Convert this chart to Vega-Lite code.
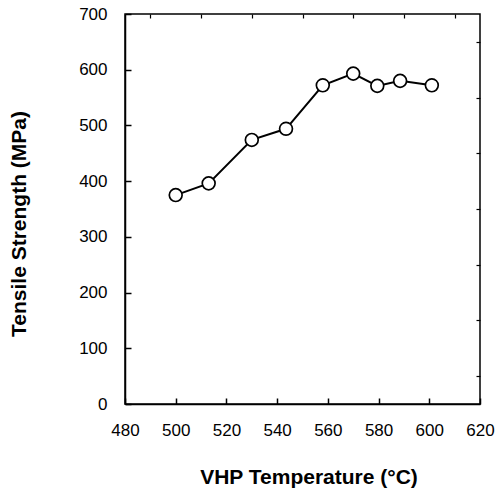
{
  "$schema": "https://vega.github.io/schema/vega-lite/v6.json",
  "width": 355,
  "height": 390,
  "autosize": {"type": "none"},
  "padding": {"left": 125, "top": 14, "right": 15, "bottom": 89},
  "background": "white",
  "config": {
    "view": {"stroke": "black", "strokeWidth": 1.5},
    "font": "Liberation Sans",
    "axis": {
      "domainColor": "black",
      "tickColor": "black",
      "labelColor": "black",
      "titleColor": "black",
      "grid": false,
      "labelFlush": false,
      "labelOverlap": false,
      "labelFont": "Liberation Sans",
      "titleFont": "Liberation Sans",
      "labelFontSize": 17,
      "titleFontSize": 21,
      "titleFontWeight": "bold"
    }
  },
  "data": {
    "values": [
      {"temp": 500, "strength": 375},
      {"temp": 513, "strength": 396},
      {"temp": 530, "strength": 474},
      {"temp": 543.5, "strength": 494},
      {"temp": 558, "strength": 572},
      {"temp": 570, "strength": 593},
      {"temp": 579.5, "strength": 571},
      {"temp": 588.5, "strength": 580},
      {"temp": 601, "strength": 572}
    ]
  },
  "layer": [
    {
      "mark": {"type": "line", "color": "black", "strokeWidth": 2},
      "encoding": {
        "x": {
          "field": "temp", "type": "quantitative",
          "scale": {"domain": [480, 620], "nice": false, "zero": false},
          "axis": {"values": [480, 500, 520, 540, 560, 580, 600, 620], "tickSize": -6, "labelPadding": 24, "labelFlush": false, "title": "VHP Temperature (°C)", "titleX": 183.5, "titleY": 79, "titleBaseline": "alphabetic", "titleAlign": "center", "domainWidth": 1.5, "tickWidth": 1.5}
        },
        "y": {
          "field": "strength", "type": "quantitative",
          "scale": {"domain": [0, 700], "nice": false},
          "axis": {"values": [0, 100, 200, 300, 400, 500, 600, 700], "tickSize": -6, "labelPadding": 24, "labelFlush": false, "title": "Tensile Strength (MPa)", "titleX": -100, "titleY": 209.5, "titleBaseline": "alphabetic", "titleAlign": "center", "titleAngle": -90, "domainWidth": 1.5, "tickWidth": 1.5}
        }
      }
    },
    {
      "mark": {"type": "point", "shape": "circle", "filled": false, "fill": "white", "fillOpacity": 1, "stroke": "black", "strokeWidth": 1.7, "size": 165, "opacity": 1},
      "encoding": {
        "x": {"field": "temp", "type": "quantitative", "axis": {"values": [490, 510, 530, 550, 570, 590, 610], "tickSize": -4, "labels": false, "domain": false, "title": null, "tickWidth": 1.2}},
        "y": {"field": "strength", "type": "quantitative", "axis": {"values": [50, 150, 250, 350, 450, 550, 650], "tickSize": -4, "labels": false, "domain": false, "title": null, "tickWidth": 1.2}}
      }
    }
  ],
  "resolve": {"axis": {"x": "independent", "y": "independent"}}
}
